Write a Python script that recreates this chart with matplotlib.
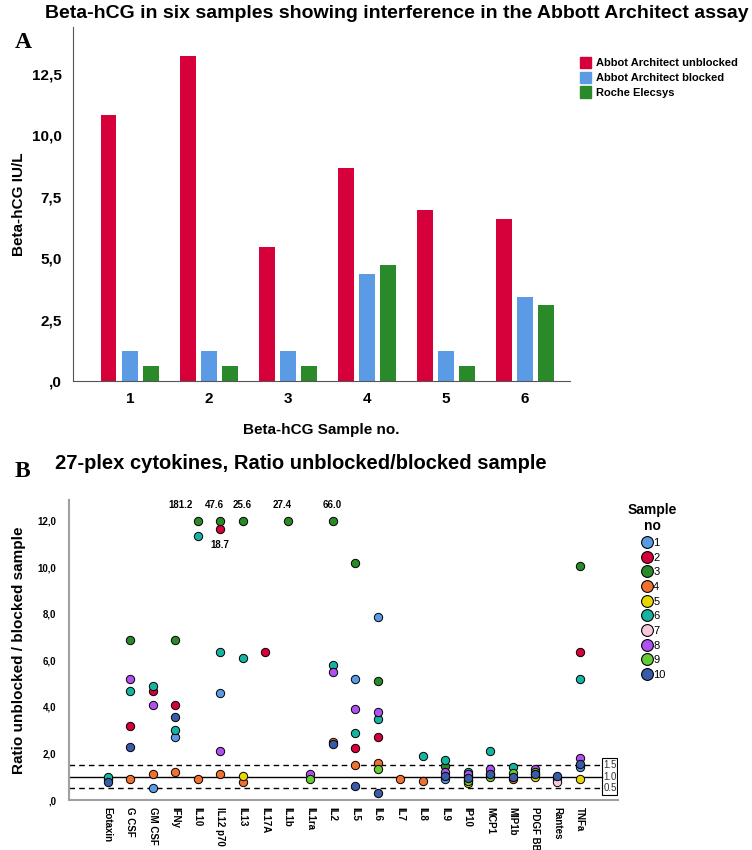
import numpy as np
import matplotlib.pyplot as plt
from matplotlib.patches import Patch, Rectangle
from matplotlib.lines import Line2D

plt.rcParams['font.family'] = ['Liberation Sans', 'DejaVu Sans']

# panel A data
samples = ['1', '2', '3', '4', '5', '6']
unblocked = [10.8, 13.2, 5.45, 8.65, 6.95, 6.6]
blocked = [1.2, 1.2, 1.2, 4.35, 1.2, 3.4]
roche = [0.6, 0.6, 0.6, 4.7, 0.6, 3.1]
bar_labels = ['Abbot Architect unblocked', 'Abbot Architect blocked', 'Roche Elecsys']
bar_colors = ['#D6003A', '#5B9BE6', '#2A8A2A']

# panel B data
cytokines = ['Eotaxin', 'G CSF', 'GM CSF', 'IFNy', 'IL10', 'IL12 p70', 'IL13', 'IL17A',
             'IL1b', 'IL1ra', 'IL2', 'IL5', 'IL6', 'IL7', 'IL8', 'IL9', 'IP10', 'MCP1',
             'MIP1b', 'PDGF BB', 'Rantes', 'TNFa']
s1 = {'Eotaxin': 0.9, 'GM CSF': 0.5, 'IFNy': 2.7, 'IL12 p70': 4.59, 'IL5': 5.19, 'IL6': 7.88,
      'IL9': 0.9, 'IP10': 1.02, 'MCP1': 1.1, 'PDGF BB': 1.1, 'Rantes': 0.9, 'TNFa': 1.43}
s2 = {'G CSF': 3.2, 'GM CSF': 4.69, 'IFNy': 4.09, 'IL12 p70': 11.66, 'IL17A': 6.38,
      'IL5': 2.22, 'IL6': 2.71, 'TNFa': 6.38}
s3 = {'G CSF': 6.88, 'IFNy': 6.88, 'IL10': 12.0, 'IL12 p70': 12.0, 'IL13': 12.0, 'IL1b': 12.0,
      'IL2': 12.0, 'IL5': 10.18, 'IL6': 5.1, 'IL9': 1.48, 'TNFa': 10.08}
s4 = {'G CSF': 0.9, 'GM CSF': 1.12, 'IFNy': 1.19, 'IL10': 0.89, 'IL12 p70': 1.12, 'IL13': 0.79,
      'IL2': 2.51, 'IL5': 1.51, 'IL6': 1.61, 'IL7': 0.9, 'IL8': 0.8, 'IP10': 0.85, 'MIP1b': 0.9}
s5 = {'IL13': 1.03, 'IP10': 0.72, 'PDGF BB': 0.98, 'TNFa': 0.9}
s6 = {'Eotaxin': 1.0, 'G CSF': 4.7, 'GM CSF': 4.9, 'IFNy': 3.01, 'IL10': 11.37, 'IL12 p70': 6.38,
      'IL13': 6.09, 'IL2': 5.81, 'IL5': 2.9, 'IL6': 3.5, 'IL8': 1.91, 'IL9': 1.71, 'IP10': 1.22,
      'MCP1': 2.11, 'MIP1b': 1.4, 'TNFa': 5.19}
s7 = {'Rantes': 0.79}
s8 = {'G CSF': 5.19, 'GM CSF': 4.09, 'IL12 p70': 2.11, 'IL1ra': 1.12, 'IL2': 5.49, 'IL5': 3.9,
      'IL6': 3.8, 'IL9': 1.22, 'IP10': 1.12, 'MCP1': 1.32, 'PDGF BB': 1.33, 'TNFa': 1.82}
s9 = {'IL1ra': 0.89, 'IL6': 1.32, 'IP10': 0.8, 'MCP1': 1.0, 'MIP1b': 1.15, 'PDGF BB': 1.2}
s10 = {'Eotaxin': 0.77, 'G CSF': 2.29, 'IFNy': 3.58, 'IL2': 2.41, 'IL5': 0.62, 'IL6': 0.32,
       'IL9': 1.02, 'IP10': 0.95, 'MCP1': 1.12, 'MIP1b': 1.0, 'PDGF BB': 1.12, 'Rantes': 1.03,
       'TNFa': 1.55}
sample_data = [s1, s2, s3, s4, s5, s6, s7, s8, s9, s10]
sample_colors = ['#5B9BE6', '#D6003A', '#2A8A2A', '#F07030', '#E8D800',
                 '#14B4A0', '#F8C8DC', '#B050F0', '#66CC33', '#3A5BA8']
# values above 12 shown at the top with their real value
capped = {'IL10': '181.2', 'IL12 p70': '47.6', 'IL13': '25.6', 'IL1b': '27.4', 'IL2': '66.0'}
capped_dx = {'IL10': -12, 'IL12 p70': -4, 'IL13': 0, 'IL1b': -4, 'IL2': 0}

fig = plt.figure(figsize=(7.52, 8.5), dpi=100)

# ---------------- panel A ----------------
axA = fig.add_axes([0.0971, 0.5518, 0.661, 0.4165])
x = np.arange(len(samples))
w = 0.2
axA.bar(x - 0.27, unblocked, w, color=bar_colors[0])
axA.bar(x, blocked, w, color=bar_colors[1])
axA.bar(x + 0.27, roche, w, color=bar_colors[2])
axA.set_xlim(-0.72, 5.57)
axA.set_ylim(0, 14.4)
ticksA = [0, 2.5, 5, 7.5, 10, 12.5]
axA.set_yticks(ticksA)
axA.set_yticklabels([',0', '2,5', '5,0', '7,5', '10,0', '12,5'], fontsize=11, fontweight='bold')
axA.set_xticks(x)
axA.set_xticklabels(samples, fontsize=11, fontweight='bold')
axA.tick_params(length=0, pad=8)
for s in ['top', 'right']:
    axA.spines[s].set_visible(False)
for s in ['left', 'bottom']:
    axA.spines[s].set_color('#555555')
axA.set_ylabel('Beta-hCG IU/L', fontsize=11, fontweight='bold', labelpad=4)
axA.set_xlabel('Beta-hCG Sample no.', fontsize=11, fontweight='bold', labelpad=12)
handles = [Patch(color=c, label=l) for c, l in zip(bar_colors, bar_labels)]
fig.legend(handles=handles, loc='upper left', bbox_to_anchor=(0.758, 0.945), frameon=False,
           prop={'size': 8, 'weight': 'bold'}, handlelength=1.0, handleheight=1.2,
           handletextpad=0.4, labelspacing=0.3)
fig.text(0.528, 0.984, 'Beta-hCG in six samples showing interference in the Abbott Architect assay',
         ha='center', va='center', fontsize=14, fontweight='bold')
fig.text(0.02, 0.95, 'A', fontsize=17, fontweight='bold', family='Liberation Serif', va='center')

# ---------------- panel B ----------------
axB = fig.add_axes([0.0911, 0.0588, 0.7307, 0.353])
xc = np.arange(len(cytokines))
for i, d in enumerate(sample_data):
    xs = [cytokines.index(k) for k in d]
    axB.scatter(xs, list(d.values()), s=36, color=sample_colors[i], edgecolor='black',
                linewidth=0.7, zorder=3 + i)
axB.set_xlim(-1.74, 22.69)
axB.set_ylim(0, 12.9)
axB.plot([-1.74, 22.0], [1.0, 1.0], color='black', lw=1.0, zorder=2)
axB.plot([-1.74, 22.0], [1.5, 1.5], color='black', lw=1.0, ls=(0, (4, 3)), zorder=2)
axB.plot([-1.74, 22.0], [0.5, 0.5], color='black', lw=1.0, ls=(0, (4, 3)), zorder=2)
axB.add_patch(Rectangle((22.0, 0.22), 0.65, 1.58, fill=False, lw=0.8, ec='black', zorder=2))
for v, t in [(1.5, '1.5'), (1.0, '1.0'), (0.5, '0.5')]:
    axB.text(22.33, v, t, ha='center', va='center', fontsize=7, color='#333333')
for k, t in capped.items():
    axB.annotate(t, (cytokines.index(k), 12.0), xytext=(capped_dx[k], 8),
                 textcoords='offset points', ha='center', va='bottom',
                 fontsize=7, fontweight='bold')
axB.annotate('18.7', (cytokines.index('IL12 p70'), s2['IL12 p70']), xytext=(0, -8),
             textcoords='offset points', ha='center', va='top', fontsize=7, fontweight='bold')
ticksB = [0, 2, 4, 6, 8, 10, 12]
axB.set_yticks(ticksB)
axB.set_yticklabels([',0', '2,0', '4,0', '6,0', '8,0', '10,0', '12,0'], fontsize=7,
                    fontweight='bold')
axB.set_xticks(xc)
axB.set_xticklabels(cytokines, rotation=270, fontsize=7, fontweight='bold', va='top')
axB.tick_params(length=0)
axB.tick_params(axis='y', pad=9)
axB.tick_params(axis='x', pad=5)
for s in ['top', 'right']:
    axB.spines[s].set_visible(False)
for s in ['left', 'bottom']:
    axB.spines[s].set_color('#A0A0A0')
    axB.spines[s].set_linewidth(1.5)
axB.set_ylabel('Ratio unblocked / blocked sample', fontsize=11, fontweight='bold', labelpad=8)
fig.text(0.40, 0.455, '27-plex cytokines, Ratio unblocked/blocked sample',
         ha='center', va='center', fontsize=14.5, fontweight='bold')
fig.text(0.02, 0.445, 'B', fontsize=17, fontweight='bold', family='Liberation Serif', va='center')

handlesB = [Line2D([], [], marker='o', ls='', markersize=8.5, markerfacecolor=c,
                   markeredgecolor='black', markeredgewidth=0.8, label=str(i + 1))
            for i, c in enumerate(sample_colors)]
legB = fig.legend(handles=handlesB, loc='upper center', bbox_to_anchor=(0.868, 0.42),
                  frameon=False, fontsize=8, title='Sample\nno', alignment='center',
                  title_fontproperties={'size': 10, 'weight': 'bold'},
                  handletextpad=0.0, labelspacing=0.42, handlelength=1.2)
legB.get_title().set_multialignment('center')

fig.savefig('out.png', dpi=100)
